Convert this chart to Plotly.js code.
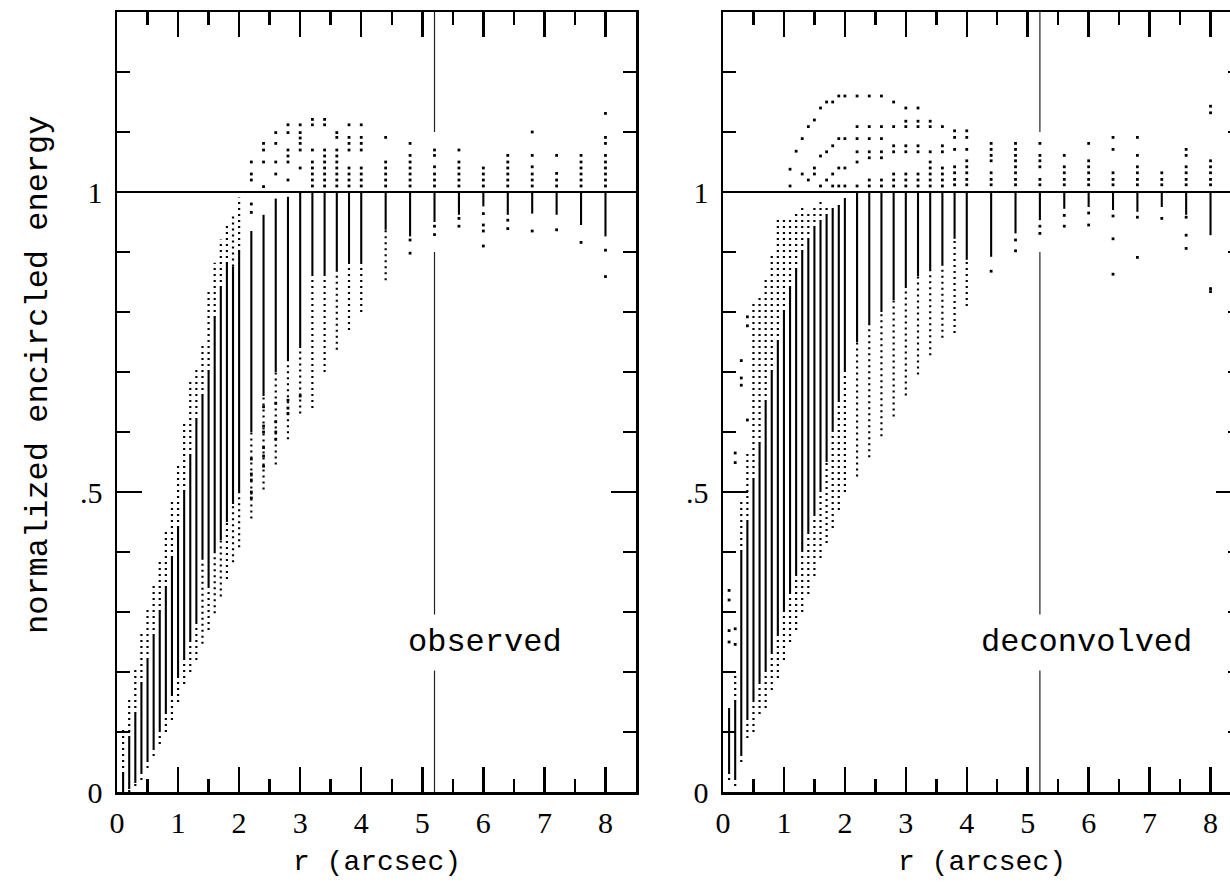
<!DOCTYPE html>
<html><head><meta charset="utf-8">
<script src="https://cdn.plot.ly/plotly-3.0.1.min.js"></script>
<style>html,body{margin:0;padding:0;overflow:hidden;background:#fff;}#chart{width:1250px;height:888px;}</style>
</head><body><div id="chart"></div>
<script>
// ---------- data ----------
const radii = [0.1,0.2,0.3,0.4,0.5,0.6,0.7,0.8,0.9,1.0,1.1,1.2,1.3,1.4,1.5,1.6,1.7,1.8,1.9,2.0,
               2.2,2.4,2.6,2.8,3.0,3.2,3.4,3.6,3.8,4.0,4.4,4.8,5.2,5.6,6.0,6.4,6.8,7.2,7.6,8.0];

// observed: lowest dot, dense range, highest dot (below unity) per radius
const obsBottom  = [0.0,0.0,0.01,0.02,0.04,0.06,0.08,0.10,0.12,0.15,0.18,0.20,0.22,0.247,0.27,0.298,0.326,0.355,0.383,0.408,
                    0.456,0.504,0.546,0.588,0.631,0.64,0.70,0.737,0.77,0.80,0.853,0.926,0.95,0.962,0.976,0.962,0.964,0.962,0.945,0.926];
const obsDenseLo = [0.0,0.005,0.015,0.03,0.05,0.07,0.10,0.13,0.16,0.19,0.22,0.25,0.28,0.39,0.34,0.40,0.42,0.45,0.48,0.50,
                    0.60,0.66,0.70,0.72,0.74,0.86,0.86,0.87,0.88,0.88,0.937,0.926,0.95,0.962,0.976,0.962,0.964,0.962,0.945,0.926];
const obsDenseHi = [0.03,0.09,0.13,0.18,0.22,0.26,0.30,0.34,0.39,0.44,0.50,0.56,0.62,0.66,0.70,0.79,0.84,0.88,0.876,0.90,
                    0.935,0.962,0.989,0.992,1,1,1,1,1,1,1,1,1,1,1,1,1,1,1,1];
const obsTop     = [0.11,0.16,0.21,0.27,0.31,0.35,0.39,0.44,0.49,0.55,0.62,0.69,0.71,0.75,0.834,0.882,0.921,0.95,0.96,0.991,
                    0.935,0.962,0.989,0.992,1,1,1,1,1,1,1,1,1,1,1,1,1,1,1,1];
// observed: isolated dots
const obsDotR = [
 2.2,2.2,2.2,2.2,2.2,2.2,2.2,2.2,2.2,2.2,
 2.4,2.4,2.4,2.4,2.4,2.4,2.4,2.4,2.4,2.4,
 2.6,2.6,2.6,2.6,2.6,2.6,2.6,2.6,
 2.8,2.8,2.8,2.8,2.8,2.8,2.8,2.8,2.8,
 3.0,3.0,3.0,3.0,3.0,3.0,3.0,
 3.2,3.2,3.2,3.2,3.2,3.2,3.2,3.2,
 3.4,3.4,3.4,3.4,3.4,3.4,3.4,3.4,3.4,
 3.6,3.6,3.6,3.6,3.6,3.6,3.6,3.6,3.6,
 3.8,3.8,3.8,3.8,3.8,3.8,3.8,3.8,
 4.0,4.0,4.0,4.0,4.0,4.0,4.0,4.0,
 4.4,4.4,4.4,4.4,4.4,4.4,
 4.8,4.8,4.8,4.8,4.8,4.8,4.8,4.8,4.8,
 5.2,5.2,5.2,5.2,5.2,5.2,5.2,5.2,
 5.6,5.6,5.6,5.6,5.6,5.6,5.6,5.6,
 6.0,6.0,6.0,6.0,6.0,6.0,6.0,6.0,
 6.4,6.4,6.4,6.4,6.4,6.4,6.4,6.4,
 6.8,6.8,6.8,6.8,6.8,6.8,6.8,
 7.2,7.2,7.2,7.2,7.2,
 7.6,7.6,7.6,7.6,7.6,7.6,7.6,
 8.0,8.0,8.0,8.0,8.0,8.0,8.0,8.0,8.0,8.0,8.0];
const obsDotY = [
 1.05,1.03,1.02,0.98,0.966,0.555,0.53,0.52,0.50,0.49,
 1.081,1.07,1.05,1.009,0.642,0.61,0.60,0.574,0.56,0.543,
 1.099,1.081,1.05,1.03,0.648,0.617,0.60,0.588,
 1.112,1.099,1.07,1.06,1.05,1.02,0.653,0.64,0.631,
 1.112,1.099,1.09,1.081,1.07,1.04,0.66,
 1.121,1.112,1.07,1.05,1.04,1.03,1.02,1.01,
 1.121,1.112,1.07,1.06,1.05,1.04,1.03,1.02,1.01,
 1.099,1.091,1.07,1.06,1.05,1.04,1.03,1.02,1.01,
 1.112,1.091,1.081,1.07,1.04,1.03,1.02,1.01,
 1.112,1.091,1.081,1.07,1.04,1.03,1.02,1.01,
 1.091,1.05,1.04,1.03,1.02,1.01,
 1.081,1.061,1.05,1.04,1.03,1.02,1.01,0.92,0.898,
 1.07,1.061,1.042,1.03,1.02,1.01,0.943,0.929,
 1.07,1.05,1.04,1.03,1.02,1.01,0.956,0.943,
 1.04,1.03,1.02,1.01,0.964,0.945,0.935,0.91,
 1.061,1.05,1.04,1.03,1.02,1.01,0.953,0.939,
 1.1,1.061,1.042,1.03,1.02,1.01,0.935,
 1.061,1.031,1.02,1.01,0.937,
 1.061,1.05,1.04,1.03,1.02,1.01,0.916,
 1.131,1.091,1.081,1.061,1.05,1.04,1.03,1.02,1.01,0.903,0.859];

// deconvolved
const decBottom  = [0.02,0.01,0.05,0.09,0.10,0.13,0.14,0.17,0.19,0.22,0.25,0.27,0.30,0.33,0.36,0.39,0.415,0.44,0.47,0.50,
                    0.526,0.558,0.593,0.626,0.661,0.696,0.728,0.757,0.765,0.81,0.892,0.931,0.953,0.972,0.975,0.97,0.967,0.975,0.962,0.928];
const decDenseLo = [0.03,0.02,0.06,0.12,0.15,0.18,0.20,0.23,0.26,0.30,0.33,0.36,0.40,0.43,0.46,0.50,0.55,0.60,0.65,0.70,
                    0.75,0.78,0.80,0.82,0.84,0.86,0.87,0.88,0.922,0.887,0.892,0.931,0.953,0.972,0.975,0.97,0.967,0.975,0.962,0.928];
const decDenseHi = [0.14,0.15,0.40,0.45,0.52,0.58,0.65,0.70,0.75,0.80,0.84,0.87,0.90,0.92,0.94,0.95,0.96,0.97,0.975,0.99,
                    1,1,1,1,1,1,1,1,1,1,1,1,1,1,1,1,1,1,1,1];
const decTop     = [0.14,0.20,0.49,0.57,0.815,0.83,0.86,0.90,0.957,0.96,0.957,0.965,0.975,0.97,0.98,0.99,0.98,0.975,0.985,0.99,
                    1,1,1,1,1,1,1,1,1,1,1,1,1,1,1,1,1,1,1,1];
const decDotR = [
 0.1,0.1,0.1,0.1,
 0.2,0.2,0.2,0.2,
 0.3,0.3,0.3,
 0.4,0.4,0.4,
 1.1,1.1,
 1.2,
 1.3,1.3,
 1.4,1.4,
 1.5,1.5,1.5,
 1.6,1.6,1.6,
 1.7,1.7,1.7,
 1.8,1.8,1.8,1.8,
 1.9,1.9,1.9,1.9,
 2.0,2.0,2.0,2.0,
 2.2,2.2,2.2,2.2,2.2,2.2,
 2.4,2.4,2.4,2.4,2.4,2.4,2.4,
 2.6,2.6,2.6,2.6,2.6,2.6,2.6,
 2.8,2.8,2.8,2.8,2.8,2.8,2.8,
 3.0,3.0,3.0,3.0,3.0,3.0,3.0,3.0,
 3.2,3.2,3.2,3.2,3.2,3.2,3.2,3.2,
 3.4,3.4,3.4,3.4,3.4,3.4,3.4,3.4,
 3.6,3.6,3.6,3.6,3.6,3.6,3.6,
 3.8,3.8,3.8,3.8,3.8,3.8,3.8,
 4.0,4.0,4.0,4.0,4.0,4.0,4.0,4.0,
 4.4,4.4,4.4,4.4,4.4,4.4,4.4,4.4,
 4.8,4.8,4.8,4.8,4.8,4.8,4.8,4.8,4.8,4.8,
 5.2,5.2,5.2,5.2,5.2,5.2,5.2,5.2,
 5.6,5.6,5.6,5.6,5.6,5.6,5.6,
 6.0,6.0,6.0,6.0,6.0,6.0,6.0,6.0,
 6.4,6.4,6.4,6.4,6.4,6.4,6.4,6.4,
 6.8,6.8,6.8,6.8,6.8,6.8,6.8,6.8,
 7.2,7.2,7.2,7.2,
 7.6,7.6,7.6,7.6,7.6,7.6,7.6,7.6,7.6,
 8.0,8.0,8.0,8.0,8.0,8.0,8.0,8.0,8.0];
const decDotY = [
 0.336,0.32,0.269,0.25,
 0.565,0.549,0.272,0.246,
 0.719,0.69,0.678,
 0.792,0.777,0.62,
 1.038,1.01,
 1.068,
 1.089,1.03,
 1.109,1.02,
 1.12,1.04,1.03,
 1.14,1.06,1.01,
 1.15,1.067,1.02,
 1.15,1.077,1.03,1.01,
 1.16,1.089,1.04,1.01,
 1.16,1.089,1.04,1.01,
 1.16,1.109,1.089,1.067,1.05,1.01,
 1.16,1.109,1.089,1.067,1.057,1.02,1.01,
 1.16,1.109,1.089,1.067,1.057,1.02,1.01,
 1.15,1.109,1.077,1.067,1.03,1.02,1.01,
 1.14,1.118,1.109,1.077,1.067,1.03,1.02,1.01,
 1.14,1.118,1.109,1.077,1.067,1.03,1.02,1.01,
 1.118,1.109,1.067,1.05,1.04,1.03,1.02,1.01,
 1.109,1.077,1.067,1.04,1.03,1.02,1.01,
 1.102,1.091,1.071,1.042,1.032,1.021,1.012,
 1.102,1.091,1.071,1.052,1.042,1.032,1.021,1.012,
 1.081,1.071,1.061,1.052,1.032,1.021,1.012,0.868,
 1.081,1.071,1.061,1.052,1.042,1.032,1.021,1.012,0.92,0.902,
 1.081,1.061,1.052,1.042,1.021,1.012,0.943,0.931,
 1.061,1.042,1.032,1.021,1.012,0.961,0.943,
 1.081,1.052,1.042,1.032,1.021,1.012,0.965,0.945,
 1.091,1.071,1.032,1.021,1.012,0.96,0.922,0.863,
 1.091,1.061,1.042,1.032,1.021,1.012,0.958,0.891,
 1.032,1.021,1.012,0.956,
 1.071,1.061,1.042,1.032,1.021,1.012,0.958,0.928,0.906,
 1.143,1.132,1.052,1.042,1.032,1.021,1.012,0.839,0.834];

// reference lines and labels
const unityLevel = 1;
const markR = 5.2;
const markSegLo = [0, 1.1];
const markSegHi = [0.9, 1.3];
const xTickVals = [0,1,2,3,4,5,6,7,8];
const xTickText = ['0','1','2','3','4','5','6','7','8'];
const yTickVals = [0,0.5,1];
const yTickText = ['0','.5','1'];
const panelLabels = ['observed','deconvolved'];
const xTitle = 'r (arcsec)';
const yTitle = 'normalized encircled energy';

// ---------- build ----------
const W = 1250, H = 888;
function segs(rs, lo, hi) {
  const x = [], y = [];
  for (let i = 0; i < rs.length; i++) {
    if (hi[i] > lo[i]) { x.push(rs[i], rs[i], null); y.push(lo[i], hi[i], null); }
  }
  return {x, y};
}
function panel(xa, ya, bottom, dLo, dHi, top, pR, pY) {
  const out = [];
  const s = segs(radii, dLo, dHi);
  out.push({type:'scatter', mode:'lines', x:s.x, y:s.y, xaxis:xa, yaxis:ya,
            line:{color:'#000', width:2.1}, hoverinfo:'skip', connectgaps:false});
  const b = segs(radii, bottom, dLo), t = segs(radii, dHi, top);
  out.push({type:'scatter', mode:'lines', x:b.x.concat(t.x), y:b.y.concat(t.y), xaxis:xa, yaxis:ya,
            line:{color:'#000', width:2.2, dash:'2px,4px'}, hoverinfo:'skip', connectgaps:false});
  out.push({type:'scatter', mode:'markers', x:pR, y:pY, xaxis:xa, yaxis:ya,
            marker:{color:'#000', size:2.8, symbol:'square'}, hoverinfo:'skip'});
  out.push({type:'scatter', mode:'lines', x:[0, 8.5], y:[unityLevel, unityLevel], xaxis:xa, yaxis:ya,
            line:{color:'#000', width:1.8}, hoverinfo:'skip'});
  const v = segs([markR, markR], markSegLo, markSegHi);
  out.push({type:'scatter', mode:'lines', x:v.x, y:v.y, xaxis:xa, yaxis:ya,
            line:{color:'#222', width:1.2}, hoverinfo:'skip', connectgaps:false});
  return out;
}
const traces = panel('x','y', obsBottom, obsDenseLo, obsDenseHi, obsTop, obsDotR, obsDotY)
  .concat(panel('x2','y2', decBottom, decDenseLo, decDenseHi, decTop, decDotR, decDotY));

function tickFont() { return {family:'Liberation Serif', size:30, color:'#000'}; }
function xAxis(dom, anchor) {
  return {domain:dom, anchor:anchor, range:[0,8.5], tickmode:'array', tickvals:xTickVals, ticktext:xTickText,
    ticks:'inside', ticklen:25, tickwidth:2.5, tickcolor:'#000', showline:true, linewidth:2.5, linecolor:'#000',
    mirror:'ticks', showgrid:false, zeroline:false, tickfont:tickFont(), ticklabelstandoff:2, fixedrange:true,
    minor:{tickmode:'array', tickvals:[0.5,1.5,2.5,3.5,4.5,5.5,6.5,7.5], ticks:'inside', ticklen:13, tickwidth:2.5, tickcolor:'#000', showgrid:false}};
}
function yAxis(dom, anchor) {
  return {domain:dom, anchor:anchor, range:[0,1.3], tickmode:'array', tickvals:yTickVals, ticktext:yTickText,
    ticks:'inside', ticklen:25, tickwidth:2.5, tickcolor:'#000', showline:true, linewidth:2.5, linecolor:'#000',
    mirror:'ticks', showgrid:false, zeroline:false, tickfont:tickFont(), ticklabelstandoff:6, fixedrange:true,
    minor:{tickmode:'array', tickvals:[0.1,0.2,0.3,0.4,0.6,0.7,0.8,0.9,1.1,1.2], ticks:'inside', ticklen:13, tickwidth:2.5, tickcolor:'#000', showgrid:false}};
}
const yDom = [1 - 792/H, 1 - 12/H];
function mono(size) { return {family:'Liberation Mono', size:size, color:'#000'}; }
function ann(o) { return Object.assign({showarrow:false, xanchor:'center', yanchor:'middle'}, o); }
const layout = {
  width:W, height:H, margin:{l:0,r:0,t:0,b:0}, showlegend:false,
  paper_bgcolor:'#fff', plot_bgcolor:'#fff',
  xaxis: xAxis([117/W, 636/W], 'y'),
  yaxis: yAxis(yDom, 'x'),
  xaxis2: xAxis([723/W, 1241/W], 'y2'),
  yaxis2: yAxis(yDom, 'x2'),
  annotations:[
    ann({text:panelLabels[0], xref:'x', yref:'y', x:6.02, y:0.25, bgcolor:'#fff', borderpad:9, font:mono(32)}),
    ann({text:panelLabels[1], xref:'x2', yref:'y2', x:5.96, y:0.25, bgcolor:'#fff', borderpad:9, font:mono(32)}),
    ann({text:xTitle, xref:'paper', yref:'paper', x:377/W, y:1-862/H, font:mono(28)}),
    ann({text:xTitle, xref:'paper', yref:'paper', x:982/W, y:1-862/H, font:mono(28)}),
    ann({text:yTitle, xref:'paper', yref:'paper', x:38/W, y:1-375/H, textangle:-90, font:mono(32)})
  ]
};
Plotly.newPlot('chart', traces, layout, {staticPlot:true, displayModeBar:false});
</script>
</body></html>
